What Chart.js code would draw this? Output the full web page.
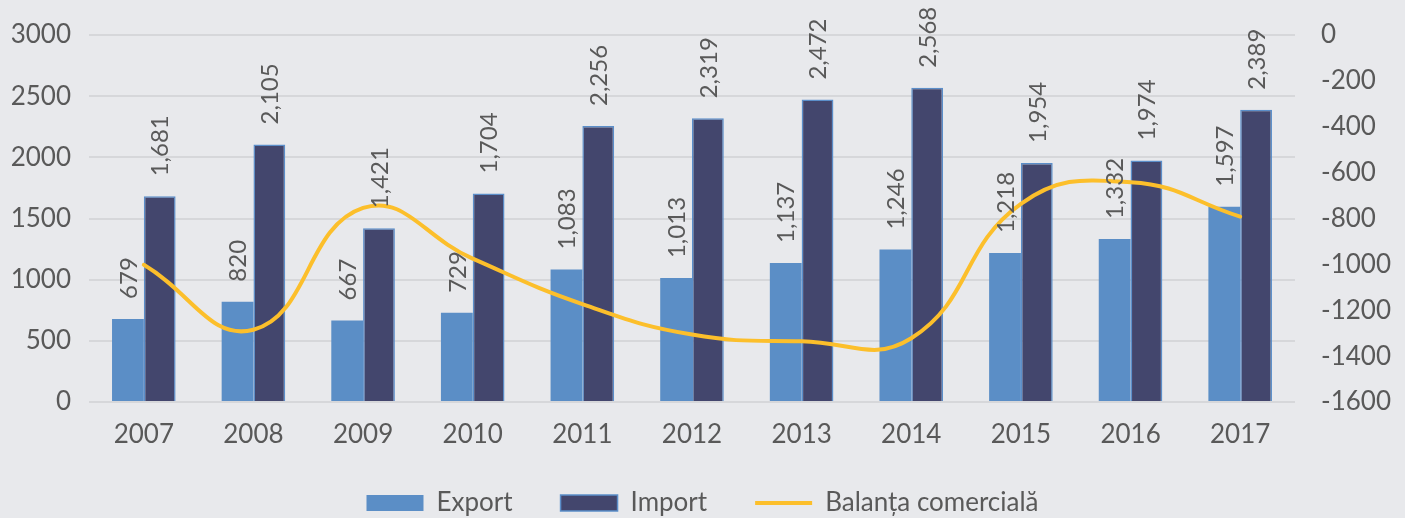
<!DOCTYPE html>
<html>
<head>
<meta charset="utf-8">
<script src="https://cdn.jsdelivr.net/npm/chart.js@4"></script>
<style>
  html, body { margin: 0; padding: 0; background: #e8e9ec; }
  #wrap { width: 1405px; height: 518px; }
</style>
</head>
<body>
<div id="wrap"><canvas id="chart"></canvas></div>
<script>
// categories and series
const years = ["2007", "2008", "2009", "2010", "2011", "2012", "2013", "2014", "2015", "2016", "2017"]
const exportValues = [679, 820, 667, 729, 1083, 1013, 1137, 1246, 1218, 1332, 1597]
const importValues = [1681, 2105, 1421, 1704, 2256, 2319, 2472, 2568, 1954, 1974, 2389]
const balanceValues = [-1002, -1285, -754, -975, -1173, -1306, -1335, -1322, -736, -642, -792]

const textColor = "#595959"
const gridColor = "#d6d7da"

// rotated value labels above the bars
const barLabels = {
  id: "barLabels",
  afterDatasetsDraw(chart) {
    const ctx = chart.ctx
    ctx.save()
    ctx.font = "24px Lato"
    ctx.fillStyle = textColor
    ctx.textAlign = "left"
    ctx.textBaseline = "middle"
    chart.data.datasets.forEach((ds, i) => {
      if (ds.type !== "bar") return
      chart.getDatasetMeta(i).data.forEach((bar, j) => {
        ctx.save()
        ctx.translate(bar.x + 1, bar.y - 20)
        ctx.rotate(-Math.PI / 2)
        ctx.fillText(ds.data[j].toLocaleString("en-US"), 0, 0)
        ctx.restore()
      })
    })
    ctx.restore()
  }
}

// push the legend row down a little, and give the year labels room so they are not clipped
const legendShift = {
  id: "legendShift",
  afterLayout(chart) {
    chart.legend.top += 8
    chart.legend.bottom += 8
    chart.scales.x.bottom += 24
  }
}

const plainTick = (v) => String(v)

// keep the tick label overhang from pushing the plot area down
const fitY = (w) => (axis) => {
  axis.width = w
  axis.paddingTop = 0
  axis.paddingBottom = 0
}

new Chart(document.getElementById("chart"), {
  data: {
    labels: years,
    datasets: [
      {
        type: "bar",
        label: "Export",
        data: exportValues,
        backgroundColor: "#5b8ec6",
        borderColor: "#5b8ec6",
        borderWidth: 0,
        pointStyle: "rect",
        yAxisID: "y",
        order: 1,
        categoryPercentage: 0.58,
        barPercentage: 1
      },
      {
        type: "bar",
        label: "Import",
        data: importValues,
        backgroundColor: "#43466d",
        borderColor: "#5b8ec9",
        borderWidth: 1.5,
        pointStyle: "rect",
        yAxisID: "y",
        order: 1,
        categoryPercentage: 0.58,
        barPercentage: 1
      },
      {
        type: "line",
        label: "Balanța comercială",
        data: balanceValues,
        borderColor: "#fcbf2b",
        backgroundColor: "#fcbf2b",
        borderWidth: 4,
        borderCapStyle: "round",
        tension: 0.45,
        pointRadius: 0,
        pointStyle: "line",
        yAxisID: "y1",
        order: 0
      }
    ]
  },
  options: {
    responsive: true,
    maintainAspectRatio: false,
    animation: false,
    layout: { padding: { top: 35, left: 0, right: 0, bottom: 0 } },
    plugins: {
      tooltip: { enabled: false },
      legend: {
        position: "bottom",
        labels: {
          color: textColor,
          font: { family: "Lato", size: 26 },
          usePointStyle: true,
          pointStyleWidth: 57,
          boxHeight: 16,
          padding: 48,
          sort: (a, b) => a.datasetIndex - b.datasetIndex
        }
      }
    },
    scales: {
      x: {
        grid: { display: false, drawTicks: false },
        border: { display: false },
        ticks: { color: textColor, font: { family: "Lato", size: 26 }, padding: 17 },
        afterFit: (axis) => { axis.height = 32 }
      },
      y: {
        position: "left",
        min: 0,
        max: 3000,
        grid: { color: gridColor, lineWidth: 2, drawTicks: false },
        border: { display: false },
        ticks: { stepSize: 500, color: textColor, font: { family: "Lato", size: 26 }, padding: 18, callback: plainTick },
        afterFit: fitY(89)
      },
      y1: {
        position: "right",
        min: -1600,
        max: 0,
        grid: { display: false, drawTicks: false },
        border: { display: false },
        ticks: { stepSize: 200, color: textColor, font: { family: "Lato", size: 26 }, padding: 26, callback: plainTick },
        afterFit: fitY(110)
      }
    }
  },
  plugins: [barLabels, legendShift]
});
</script>
</body>
</html>
